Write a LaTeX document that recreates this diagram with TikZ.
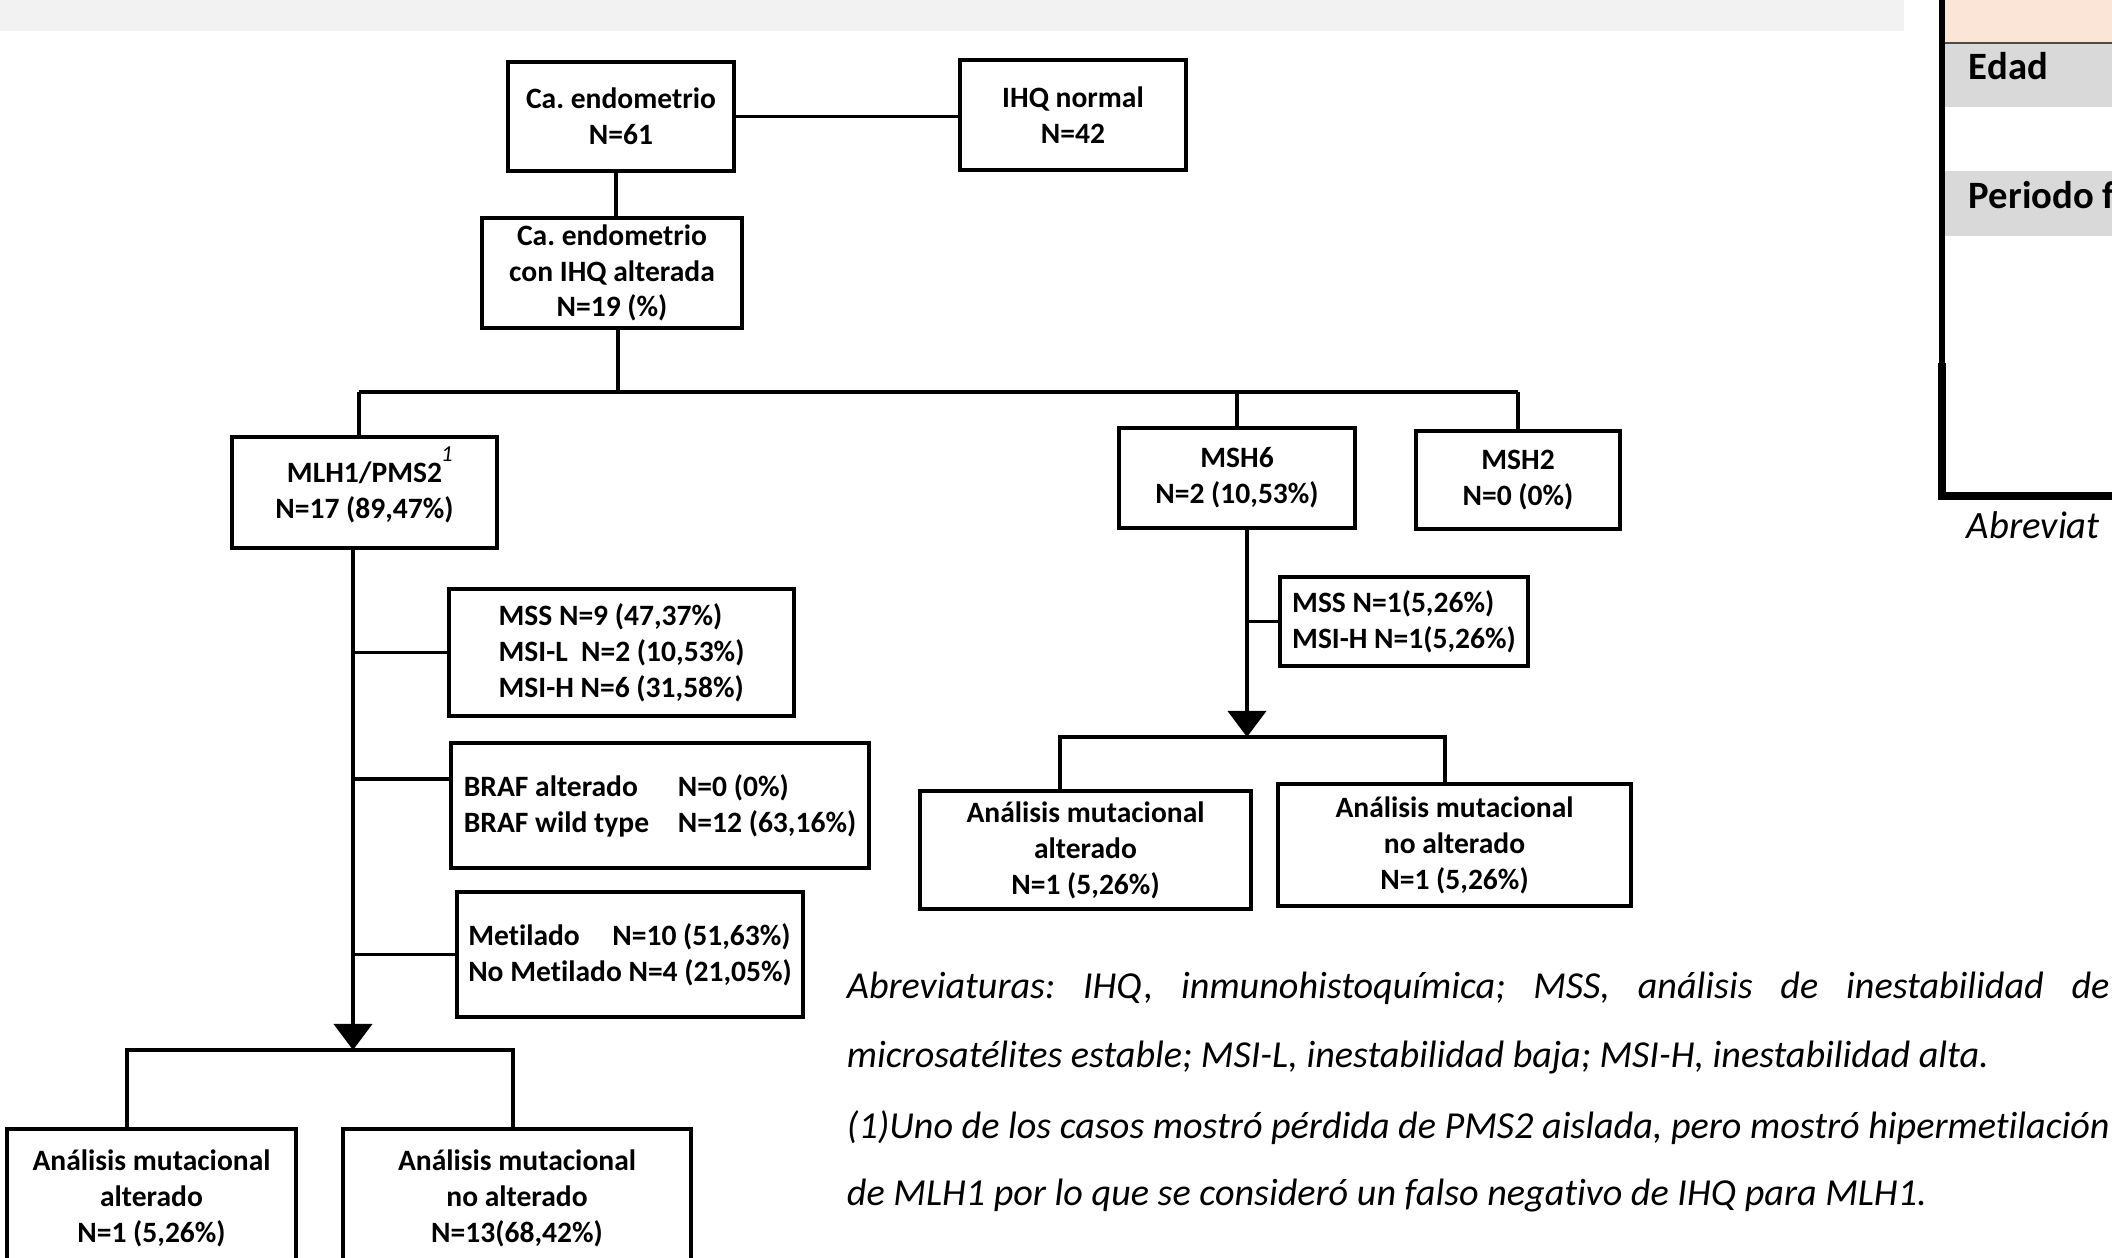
\documentclass[tikz,border=0pt]{standalone}
\usepackage{fontspec}
\setmainfont{Carlito}[Ligatures={NoCommon}]
\usetikzlibrary{arrows.meta,positioning}
\definecolor{banda}{HTML}{F2F2F2}
\definecolor{melocoton}{HTML}{FBE5D6}
\definecolor{filagris}{HTML}{D9D9D9}
\frenchspacing

\begin{document}
\begin{tikzpicture}[x=0.01cm, y=-0.01cm, line width=1.1pt]
  % Styles
  \tikzstyle{caja}=[draw, line width=1.3pt, inner sep=0pt, align=center, font=\fontsize{8.4}{10.2}\selectfont\bfseries]
  \tikzstyle{lista}=[caja, align=left]
  \tikzstyle{flecha}=[-{Triangle[width=0.38cm,length=0.26cm]}]
  \tikzstyle{nota}=[font=\fontsize{10.85}{13}\selectfont\itshape, inner sep=0pt, anchor=base west]
  \tikzstyle{celda}=[font=\fontsize{11}{13}\selectfont\bfseries, inner sep=0pt, anchor=base west]

  \useasboundingbox (0,0) rectangle (2112,1258);
  \clip (0,0) rectangle (2112,1258);

  % Page strip and cut table on the right
  \fill[banda] (0,0) rectangle (1904,31);
  \fill[melocoton] (1942,0) rectangle (2112,43);
  \fill[filagris] (1942,43) rectangle (2112,107);
  \fill[filagris] (1942,171) rectangle (2112,236);
  \draw[line width=0.6pt, black!70] (1942,43) -- (2112,43);
  \draw[line width=1.7pt] (1942,0) -- (1942,363);
  \draw[line width=2.5pt] (1942,363) -- (1942,496) -- (2112,496);
  \node[celda] (edad) at (1967,80) {Edad};
  \node[celda] (periodo) at (1967,209) {Periodo f};
  \node[nota, font=\fontsize{11}{13}\selectfont\itshape] (abrevtab) at (1965,538) {Abreviat};

  % Top of the tree
  \node[caja, minimum width=2.26cm, minimum height=1.09cm] (endo) at (621,116.5) {Ca. endometrio\\N=61};
  \node[caja, minimum width=2.26cm, minimum height=1.10cm] (ihqn) at (1073,115) {IHQ normal\\N=42};
  \node[caja, minimum width=2.60cm, minimum height=1.10cm] (alter) at (612,273) {Ca. endometrio\\con IHQ alterada\\N=19 (\%)};

  \coordinate (baja) at (616,200);
  \draw (endo.east) -- (endo.east -| ihqn.west);
  \draw (baja |- endo.south) -- (baja |- alter.north);

  % Proteins
  \node[caja, minimum width=2.65cm, minimum height=1.11cm] (mlh) at (364.5,492.5) {MLH1/PMS2\\N=17 (89,47\%)};
  \node[font=\fontsize{6.5}{7}\selectfont\itshape, inner sep=0pt] (sup1) at (447,454) {1};
  \node[caja, minimum width=2.36cm, minimum height=1.00cm] (msh6) at (1237,478) {MSH6\\N=2 (10,53\%)};
  \node[caja, minimum width=2.04cm, minimum height=0.98cm] (msh2) at (1518,480) {MSH2\\N=0 (0\%)};

  \coordinate (busT) at (618,392);
  \coordinate (bajaA) at (359,392);
  \draw (busT |- alter.south) -- (busT);
  \draw (bajaA) -- (msh2.north |- busT);
  \draw (bajaA) -- (bajaA |- mlh.north);
  \draw (msh6.north |- busT) -- (msh6.north);
  \draw (msh2.north |- busT) -- (msh2.north);

  % Left branch: MLH1/PMS2
  \node[lista, minimum width=3.45cm, minimum height=1.27cm] (mss) at (621.5,652.5) {MSS N=9 (47,37\%)\\MSI-L\ \ N=2 (10,53\%)\\MSI-H N=6 (31,58\%)};
  \node[lista, minimum width=4.18cm, minimum height=1.25cm] (braf) at (660,805.5) {\makebox[2.14cm][l]{BRAF alterado}N=0 (0\%)\\\makebox[2.14cm][l]{BRAF wild type}N=12 (63,16\%)};
  \node[lista, minimum width=3.46cm, minimum height=1.25cm] (metil) at (630,954.5) {\makebox[1.44cm][l]{Metilado}N=10 (51,63\%)\\No Metilado N=4 (21,05\%)};
  \node[caja, minimum width=2.89cm, minimum height=1.39cm] (malt) at (151.5,1198.5) {Análisis mutacional\\alterado\\N=1 (5,26\%)};
  \node[caja, minimum width=3.48cm, minimum height=1.39cm] (mnoalt) at (517,1198.5) {Análisis mutacional\\no alterado\\N=13(68,42\%)};

  \coordinate (puntaA) at (353,1050);
  \coordinate (busAl) at (127,1050);
  \coordinate (busAr) at (513,1050);
  \coordinate (brafin) at ([yshift=0.265cm]braf.west);
  \draw[flecha] (puntaA |- mlh.south) -- (puntaA);
  \draw (puntaA |- mss.west) -- (mss.west);
  \draw (brafin -| puntaA) -- (brafin);
  \draw (puntaA |- metil.west) -- (metil.west);
  \draw (busAl |- malt.north) -- (busAl) -- (busAr) -- (busAr |- mnoalt.north);

  % Right branch: MSH6
  \node[lista, minimum width=2.48cm, minimum height=0.89cm] (msi6) at (1404,621.5) {MSS N=1(5,26\%)\\MSI-H N=1(5,26\%)};
  \node[caja, minimum width=3.31cm, minimum height=1.18cm] (ralt) at (1085.5,850) {Análisis mutacional\\alterado\\N=1 (5,26\%)};
  \node[caja, minimum width=3.53cm, minimum height=1.22cm] (rnoalt) at (1454.5,845) {Análisis mutacional\\no alterado\\N=1 (5,26\%)};

  \coordinate (puntaB) at (1247,737);
  \coordinate (busBl) at (1060,737);
  \coordinate (busBr) at (1445,737);
  \draw[flecha] (puntaB |- msh6.south) -- (puntaB);
  \draw (puntaB |- msi6.west) -- (msi6.west);
  \draw (busBl |- ralt.north) -- (busBl) -- (busBr) -- (busBr |- rnoalt.north);

  % Footnote
  \node[nota] (nota1) at (845,998) {\makebox[12.62cm][s]{Abreviaturas: IHQ, inmunohistoquímica; MSS, análisis de inestabilidad de}};
  \node[nota] (nota2) at (845,1067) {microsatélites estable; MSI-L, inestabilidad baja; MSI-H, inestabilidad alta.};
  \node[nota] (nota3) at (845,1138) {\makebox[12.62cm][s]{(1)Uno de los casos mostró pérdida de PMS2 aislada, pero mostró hipermetilación}};
  \node[nota] (nota4) at (845,1205) {de MLH1 por lo que se consideró un falso negativo de IHQ para MLH1.};
\end{tikzpicture}
\end{document}
